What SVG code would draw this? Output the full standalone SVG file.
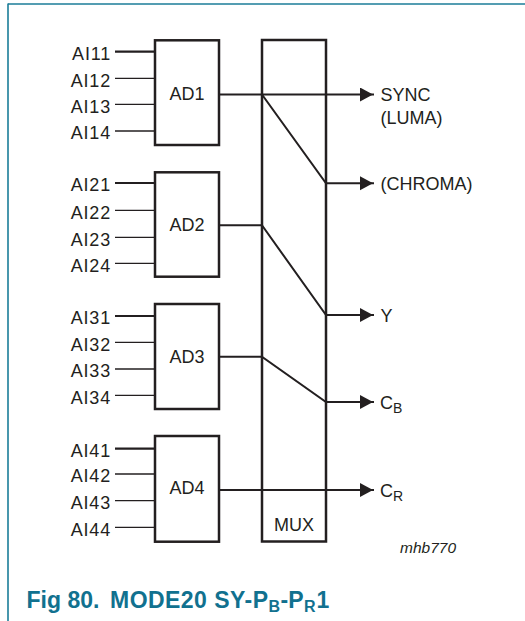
<svg xmlns="http://www.w3.org/2000/svg" width="525" height="621" viewBox="0 0 525 621">
<defs>
<style>
.t{font-family:"Liberation Sans",Arial,sans-serif;font-size:18px;fill:#231f20}
.ai{text-anchor:end;letter-spacing:0.8px}
.c{text-anchor:middle}
.sub{font-size:14px}
.box{fill:#fff;stroke:#231f20;stroke-width:2.5}
.in{stroke:#231f20;stroke-width:1.3;fill:none}
.in1{stroke:#231f20;stroke-width:2.2;fill:none}
.w{stroke:#231f20;stroke-width:2;fill:none;stroke-linecap:square}
.ttl{font-family:"Liberation Sans",Arial,sans-serif;font-weight:bold;font-size:23px;fill:#11718f}
.ttls{font-size:16px}
</style>
<marker id="ah" markerUnits="userSpaceOnUse" markerWidth="14" markerHeight="15" refX="13" refY="7" orient="auto">
<path d="M0,0 L13,7 L0,14 Z" fill="#231f20"/>
</marker>
</defs>
<rect width="525" height="621" fill="#fff"/>
<g id="frame">
<line x1="8" y1="4" x2="525" y2="4" stroke="#1b7d99" stroke-width="1.6"/>
<line x1="8" y1="3.5" x2="8" y2="621" stroke="#1b7d99" stroke-width="1.6"/>
</g>
<g id="connectors">
<line class="w" x1="219" y1="94.5" x2="373" y2="94.5" marker-end="url(#ah)"/>
<polyline class="w" points="262,94.5 326,183.3 373,183.3" marker-end="url(#ah)"/>
<line class="w" x1="219" y1="225.3" x2="262" y2="225.3"/>
<polyline class="w" points="262,225.3 326,315 373,315" marker-end="url(#ah)"/>
<line class="w" x1="219" y1="356.7" x2="262" y2="356.7"/>
<polyline class="w" points="262,356.7 326,402 373,402" marker-end="url(#ah)"/>
<line class="w" x1="219" y1="490" x2="373" y2="490" marker-end="url(#ah)"/>
</g>
<g id="mux">
<rect x="262" y="40" width="64" height="501.5" fill="none" stroke="#231f20" stroke-width="2.5"/>
<text class="t c" x="294" y="531">MUX</text>
</g>
<g id="ad1">
<rect class="box" x="155" y="40.3" width="64" height="104.7"/>
<text class="t c" x="187" y="99.5">AD1</text>
<line class="in1" x1="115" y1="51.7" x2="155" y2="51.7"/>
<line class="in" x1="115" y1="78.3" x2="155" y2="78.3"/>
<line class="in" x1="115" y1="104.3" x2="155" y2="104.3"/>
<line class="in" x1="115" y1="131" x2="155" y2="131"/>
<text class="t ai" x="111" y="60">AI11</text>
<text class="t ai" x="111" y="86.6">AI12</text>
<text class="t ai" x="111" y="112.6">AI13</text>
<text class="t ai" x="111" y="139.3">AI14</text>
</g>
<g id="ad2">
<rect class="box" x="155" y="172.3" width="64" height="104.4"/>
<text class="t c" x="187" y="230.7">AD2</text>
<line class="in1" x1="115" y1="183" x2="155" y2="183"/>
<line class="in" x1="115" y1="210.3" x2="155" y2="210.3"/>
<line class="in" x1="115" y1="237.3" x2="155" y2="237.3"/>
<line class="in" x1="115" y1="263.3" x2="155" y2="263.3"/>
<text class="t ai" x="111" y="191.3">AI21</text>
<text class="t ai" x="111" y="218.6">AI22</text>
<text class="t ai" x="111" y="245.6">AI23</text>
<text class="t ai" x="111" y="271.6">AI24</text>
</g>
<g id="ad3">
<rect class="box" x="155" y="304" width="64" height="105"/>
<text class="t c" x="187" y="362.7">AD3</text>
<line class="in1" x1="115" y1="316" x2="155" y2="316"/>
<line class="in" x1="115" y1="342.3" x2="155" y2="342.3"/>
<line class="in" x1="115" y1="369" x2="155" y2="369"/>
<line class="in" x1="115" y1="395.3" x2="155" y2="395.3"/>
<text class="t ai" x="111" y="324.3">AI31</text>
<text class="t ai" x="111" y="350.6">AI32</text>
<text class="t ai" x="111" y="377.3">AI33</text>
<text class="t ai" x="111" y="403.6">AI34</text>
</g>
<g id="ad4">
<rect class="box" x="155" y="436" width="64" height="105.7"/>
<text class="t c" x="187" y="494.3">AD4</text>
<line class="in1" x1="115" y1="448.7" x2="155" y2="448.7"/>
<line class="in" x1="115" y1="474" x2="155" y2="474"/>
<line class="in" x1="115" y1="500.7" x2="155" y2="500.7"/>
<line class="in" x1="115" y1="527.3" x2="155" y2="527.3"/>
<text class="t ai" x="111" y="457">AI41</text>
<text class="t ai" x="111" y="482.3">AI42</text>
<text class="t ai" x="111" y="509">AI43</text>
<text class="t ai" x="111" y="535.6">AI44</text>
</g>
<g id="outputs">
<text class="t" x="380.5" y="101">SYNC</text>
<text class="t" x="380.5" y="124.3">(LUMA)</text>
<text class="t" x="380.5" y="190">(CHROMA)</text>
<text class="t" x="380.5" y="322">Y</text>
<text class="t" x="380" y="409">C<tspan class="sub" dy="4">B</tspan></text>
<text class="t" x="380" y="497">C<tspan class="sub" dy="4">R</tspan></text>
</g>
<text x="400" y="553.3" font-family="Liberation Sans, Arial, sans-serif" font-style="italic" font-size="15.5" fill="#231f20">mhb770</text>
<text class="ttl" x="26.5" y="608.3">Fig 80.</text>
<text class="ttl" x="110" y="608.3" textLength="158" lengthAdjust="spacing">MODE20 SY-P</text>
<text class="ttl ttls" x="268.5" y="611.5">B</text>
<text class="ttl" x="280.5" y="608.3">-P</text>
<text class="ttl ttls" x="304" y="611.5">R</text>
<text class="ttl" x="316.5" y="608.3">1</text>
</svg>
